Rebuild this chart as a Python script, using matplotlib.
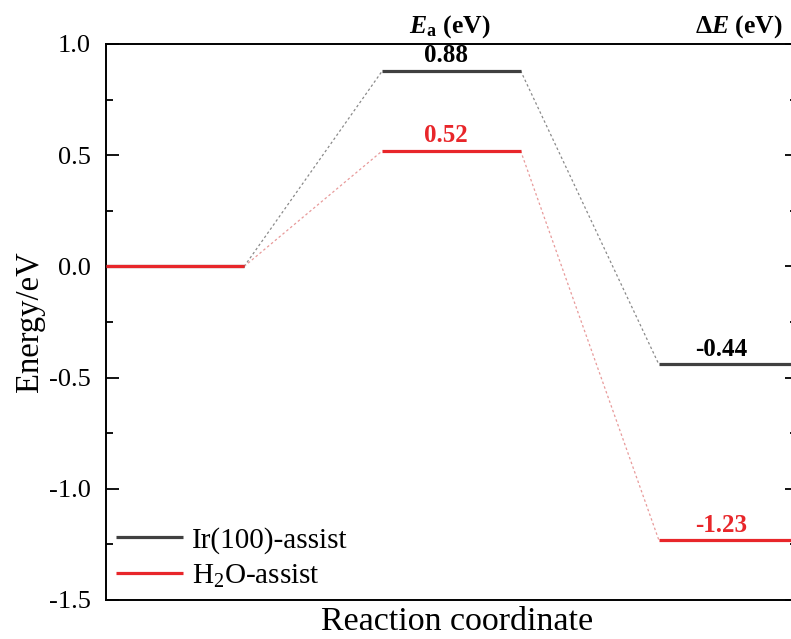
import matplotlib
matplotlib.use("Agg")
import matplotlib.pyplot as plt
from matplotlib.ticker import MultipleLocator

plt.rcParams["font.family"] = ["Liberation Serif", "DejaVu Serif"]
plt.rcParams["mathtext.fontset"] = "custom"
plt.rcParams["mathtext.rm"] = "Liberation Serif"
plt.rcParams["mathtext.it"] = "Liberation Serif:italic"
plt.rcParams["mathtext.bf"] = "Liberation Serif:bold"
plt.rcParams["mathtext.bfit"] = "Liberation Serif:italic:bold"
plt.rcParams["axes.unicode_minus"] = False

# energy levels for each pathway: initial, transition state, final
states = [0, 1, 2]
ir_energy = [0.0, 0.88, -0.44]
h2o_energy = [0.0, 0.52, -1.23]
series_names = ["Ir(100)-assist", r"H$_2$O-assist"]
level_labels_ir = ["", "0.88", "-0.44"]
level_labels_h2o = ["", "0.52", "-1.23"]

black = "#404040"
red = "#e8262a"

W, H = 791, 639
fig = plt.figure(figsize=(W / 100, H / 100), dpi=100)
# right spine sits just past the image edge, as in the source
ax = fig.add_axes([106 / W, 39 / H, 691 / W, 556 / H])

def draw_path(energy, labels, color, text_color, dash_color, name):
    for i in states:
        x0, x1 = 2 * i, 2 * i + 1
        ax.plot([x0, x1], [energy[i], energy[i]], color=color, lw=2.3,
                solid_capstyle="butt", label=name if i == 0 else None, zorder=3)
        if labels[i]:
            shift = -0.04 if i == 1 else -0.05
            ax.text((x0 + x1) / 2 + shift, energy[i] + 0.015, labels[i],
                    ha="center", va="bottom", fontsize=18, fontweight="bold",
                    color=text_color)
        if i > 0:
            ax.plot([x0 - 1, x0], [energy[i - 1], energy[i]], color=dash_color,
                    lw=0.9, ls=(0, (2, 2)), zorder=2)

draw_path(ir_energy, level_labels_ir, black, "black", "#8a8a8a", series_names[0])
draw_path(h2o_energy, level_labels_h2o, red, red, "#e89a9a", series_names[1])

ax.set_xlim(0, 5.0)
ax.set_ylim(-1.5, 1.0)
ax.set_xticks([])
ax.yaxis.set_major_locator(MultipleLocator(0.5))
ax.yaxis.set_minor_locator(MultipleLocator(0.25))
ax.tick_params(axis="y", which="both", direction="in", right=True, labelsize=19,
               width=1.3, pad=11)
ax.tick_params(axis="y", which="major", length=9)
ax.tick_params(axis="y", which="minor", length=5)
for s in ax.spines.values():
    s.set_linewidth(1.4)

ax.set_xlabel("Reaction coordinate", fontsize=24.5, labelpad=3)
ax.xaxis.set_label_coords(0.508, -0.012, transform=ax.transAxes)
ax.xaxis.label.set_va("top")
ax.set_ylabel("Energy/eV", fontsize=23.5, labelpad=3)

ax.text(2.49, 1.02, r"$\mathbfit{E}_\mathbf{a}$ (eV)", ha="center", va="bottom",
        fontsize=18.5, fontweight="bold")
ax.text(4.58, 1.02, r"$\mathbf{\Delta}\mathbfit{E}$ (eV)", ha="center", va="bottom",
        fontsize=18.5, fontweight="bold")

ax.legend(loc="lower left", frameon=False, fontsize=21, handlelength=2.3,
          handletextpad=0.3, labelspacing=0.3, borderaxespad=0.1,
          borderpad=0.25)

fig.savefig("out.png", dpi=100)
